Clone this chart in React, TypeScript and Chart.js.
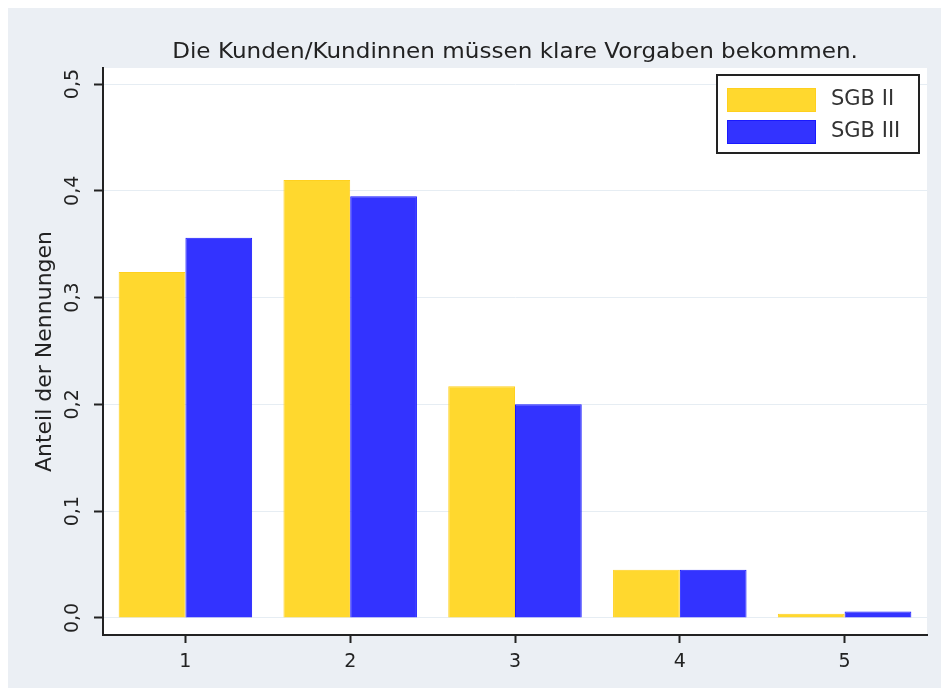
import React, { useEffect, useRef } from "react";
import { Chart, registerables } from "chart.js";

Chart.register(...registerables);

const categories = ["1", "2", "3", "4", "5"];
const seriesNames = ["SGB II", "SGB III"];
const sgb2 = [0.324, 0.41, 0.217, 0.045, 0.004];
const sgb3 = [0.356, 0.395, 0.2, 0.045, 0.006];
const yTicks = [0, 0.1, 0.2, 0.3, 0.4, 0.5];
const yTickLabels = ["0,0", "0,1", "0,2", "0,3", "0,4", "0,5"];
const chartTitle = "Die Kunden/Kundinnen müssen klare Vorgaben bekommen.";
const yTitle = "Anteil der Nennungen";

const FONT = "'DejaVu Sans', sans-serif";
const BG = "#ebeff4";
const INK = "#222222";

const framePlugin = {
  id: "frame",
  beforeDraw(chart: any) {
    const { ctx, chartArea: ca, width, height } = chart;
    ctx.save();
    ctx.fillStyle = BG;
    ctx.fillRect(0, 0, width, height);
    ctx.fillStyle = "#ffffff";
    ctx.fillRect(0, 0, width, 8);
    ctx.fillRect(0, 0, 8, height);
    ctx.fillRect(ca.left, ca.top, ca.right - ca.left, ca.bottom - ca.top);
    ctx.restore();
  },
  afterDraw(chart: any) {
    const { ctx, chartArea: ca } = chart;
    // title
    ctx.save();
    ctx.font = `21px ${FONT}`;
    ctx.fillStyle = INK;
    ctx.textAlign = "center";
    ctx.textBaseline = "alphabetic";
    const cx = (ca.left + ca.right) / 2;
    ctx.translate(cx, 58);
    ctx.scale(1.1, 1);
    ctx.fillText(chartTitle, 0, 0);
    ctx.restore();

    // legend
    const bw = 202;
    const bh = 78;
    const bx = ca.right - 8 - bw;
    const by = ca.top + 7;
    ctx.save();
    ctx.fillStyle = "#ffffff";
    ctx.fillRect(bx, by, bw, bh);
    ctx.strokeStyle = INK;
    ctx.lineWidth = 2;
    ctx.strokeRect(bx, by, bw, bh);
    chart.data.datasets.forEach((ds: any, i: number) => {
      const sy = by + 13 + i * 32;
      ctx.fillStyle = ds.backgroundColor;
      ctx.fillRect(bx + 10, sy, 89, 24);
      ctx.strokeStyle = ds.borderColor;
      ctx.lineWidth = 1;
      ctx.strokeRect(bx + 10.5, sy + 0.5, 88, 23);
      ctx.fillStyle = "#333333";
      ctx.font = `21px ${FONT}`;
      ctx.textAlign = "left";
      ctx.textBaseline = "middle";
      ctx.fillText(ds.label, bx + 114, sy + 12);
    });
    ctx.restore();
  },
};

export default function App() {
  const ref = useRef<HTMLCanvasElement>(null);

  useEffect(() => {
    document.documentElement.style.background = BG;
    document.body.style.background = BG;
    if (!ref.current) return;
    const chart = new Chart(ref.current, {
      type: "bar",
      data: {
        labels: categories,
        datasets: [
          {
            label: seriesNames[0],
            data: sgb2,
            backgroundColor: "rgb(255,216,46)",
            borderColor: "rgb(255,208,30)",
            borderWidth: 1,
            categoryPercentage: 0.81,
            barPercentage: 1.0,
          },
          {
            label: seriesNames[1],
            data: sgb3,
            backgroundColor: "rgb(51,51,255)",
            borderColor: "rgb(25,25,255)",
            borderWidth: 1,
            categoryPercentage: 0.81,
            barPercentage: 1.0,
          },
        ],
      },
      options: {
        responsive: false,
        animation: false,
        layout: { padding: { top: 68, right: 14, left: 0, bottom: 0 } },
        plugins: {
          legend: { display: false },
          title: { display: false },
          tooltip: { enabled: false },
        },
        scales: {
          x: {
            offset: true,
            grid: {
              offset: false,
              drawOnChartArea: false,
              tickColor: INK,
              tickLength: 8,
              tickWidth: 2,
            },
            border: { color: INK, width: 2 },
            ticks: { color: INK, font: { family: FONT, size: 19 }, padding: 8 },
            afterFit: (s: any) => {
              s.height = 53;
            },
          },
          y: {
            min: -0.016,
            max: 0.515,
            afterBuildTicks: (s: any) => {
              s.ticks = yTicks.map((v) => ({ value: v }));
            },
            afterFit: (s: any) => {
              s.width = 103;
            },
            ticks: {
              minRotation: 90,
              maxRotation: 90,
              crossAlign: "center",
              padding: 6,
              color: INK,
              font: { family: FONT, size: 19 },
              callback: (_v: any, i: number) => yTickLabels[i],
            },
            grid: {
              color: "#e6edf3",
              lineWidth: 1,
              tickColor: INK,
              tickLength: 9,
              tickWidth: 2,
            },
            border: { color: INK, width: 2 },
            title: {
              display: true,
              text: yTitle,
              color: INK,
              font: { family: FONT, size: 22 },
              padding: { top: 32, bottom: 0 },
            },
          },
        },
      },
      plugins: [framePlugin],
    } as any);
    return () => chart.destroy();
  }, []);

  return (
    <div
      style={{
        position: "fixed",
        left: 0,
        top: 0,
        right: 0,
        bottom: 0,
        background: BG,
        overflow: "hidden",
      }}
    >
      <canvas ref={ref} width={941} height={688} style={{ display: "block" }} />
    </div>
  );
}
